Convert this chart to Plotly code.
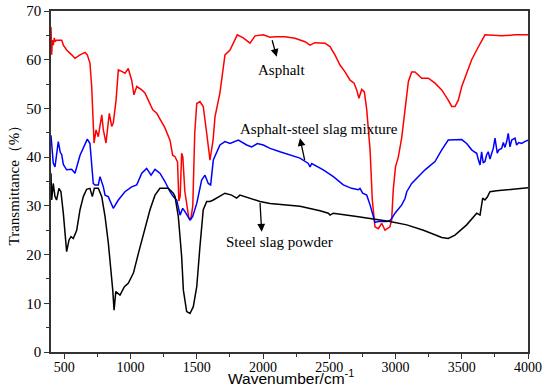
import plotly.graph_objects as go

# Asphalt (red)
asphalt_wn = [400, 405, 410, 417, 425, 430, 440, 455, 481, 493, 518, 556, 581, 619, 657, 674, 694, 707,
              719, 725, 740, 757, 783, 795, 815, 840, 858, 870, 891, 908, 934, 958, 983, 1009, 1026, 1047,
              1085, 1109, 1134, 1168, 1198, 1235, 1260, 1298, 1318, 1336, 1355, 1365, 1375, 1386, 1395,
              1410, 1440, 1455, 1470, 1485, 1500, 1524, 1549, 1575, 1600, 1623, 1638, 1675, 1713, 1751,
              1774, 1806, 1851, 1902, 1940, 2002, 2053, 2090, 2166, 2241, 2317, 2355, 2392, 2468, 2506,
              2543, 2581, 2619, 2657, 2687, 2707, 2724, 2745, 2765, 2783, 2808, 2825, 2845, 2870, 2896,
              2921, 2958, 2971, 2983, 3000, 3021, 3047, 3072, 3097, 3122, 3147, 3198, 3248, 3298, 3349,
              3398, 3424, 3449, 3474, 3500, 3537, 3575, 3613, 3650, 3675, 3801, 3902, 4000]
asphalt_t = [66.7, 61.0, 64.0, 63.0, 64.5, 63.7, 64.0, 64.0, 64.0, 63.0, 62.0, 61.0, 60.3, 61.0, 61.5, 61.0,
             59.3, 54.5, 44.9, 42.9, 45.6, 44.2, 48.7, 45.6, 42.9, 49.0, 46.3, 47.0, 51.7, 57.9, 57.6, 57.2,
             58.2, 55.8, 52.8, 54.5, 53.8, 53.2, 51.7, 49.7, 49.0, 47.3, 46.0, 43.5, 40.4, 40.1, 39.0, 31.0,
             32.0, 40.8, 40.0, 33.0, 27.5, 27.3, 30.0, 45.0, 51.0, 51.4, 50.4, 44.9, 39.4, 43.5, 48.3, 53.2,
             61.0, 62.0, 63.4, 65.1, 64.5, 63.4, 64.9, 65.1, 64.6, 64.7, 64.7, 64.4, 63.7, 63.0, 63.5, 63.4,
             62.7, 61.0, 58.9, 57.5, 55.8, 55.2, 53.8, 52.1, 53.9, 53.4, 49.7, 41.5, 31.2, 25.7, 25.3, 26.4,
             25.0, 25.7, 27.1, 33.3, 38.0, 40.0, 44.0, 50.0, 55.5, 57.5, 57.5, 56.2, 56.2, 55.2, 53.8, 51.7,
             50.4, 50.4, 51.7, 54.5, 57.2, 60.0, 62.0, 64.0, 65.1, 64.9, 65.1, 65.1]

# Asphalt-steel slag mixture (blue)
mixture_wn = [400, 417, 430, 455, 470, 481, 493, 518, 556, 581, 619, 657, 674, 694, 719, 732, 757, 770,
              795, 808, 832, 870, 908, 958, 1009, 1047, 1085, 1122, 1155, 1185, 1222, 1260, 1298, 1323,
              1349, 1374, 1394, 1411, 1449, 1469, 1500, 1537, 1562, 1587, 1605, 1625, 1675, 1713, 1751,
              1814, 1877, 1915, 1957, 2002, 2053, 2128, 2204, 2279, 2342, 2355, 2368, 2455, 2531, 2606,
              2669, 2719, 2732, 2752, 2783, 2808, 2845, 2870, 2896, 2935, 2958, 2971, 2996, 3047, 3072,
              3085, 3122, 3172, 3223, 3298, 3349, 3398, 3449, 3500, 3537, 3575, 3600, 3613, 3625, 3638,
              3650, 3662, 3675, 3688, 3700, 3713, 3726, 3738, 3751, 3768, 3780, 3801, 3814, 3826, 3839,
              3851, 3864, 3877, 3902, 3914, 3930, 3952, 3975, 4000]
mixture_t = [44.5, 38.8, 38.0, 43.2, 41.0, 40.5, 38.5, 37.4, 37.5, 36.7, 40.4, 42.8, 43.7, 42.8, 34.6,
             34.3, 34.3, 36.0, 33.9, 32.2, 31.9, 29.5, 31.2, 32.9, 33.9, 34.3, 36.7, 37.7, 36.3, 37.5, 36.7,
             35.0, 32.9, 31.9, 31.2, 28.1, 29.5, 28.8, 27.1, 27.8, 30.5, 35.3, 36.3, 34.6, 34.3, 39.4, 42.5,
             43.2, 42.8, 43.5, 42.5, 42.1, 42.8, 42.5, 41.8, 41.1, 40.4, 39.8, 38.7, 38.0, 38.7, 37.4, 36.0,
             34.3, 33.6, 33.3, 33.6, 32.6, 32.2, 30.2, 26.6, 26.8, 26.8, 26.8, 27.0, 27.4, 28.5, 30.2, 31.5,
             32.9, 34.6, 36.0, 37.4, 39.1, 41.5, 43.5, 43.5, 43.6, 42.8, 41.5, 41.0, 40.8, 39.5, 38.4,
             41.1, 38.8, 39.1, 40.5, 41.1, 39.6, 40.8, 41.8, 43.9, 40.8, 41.5, 41.8, 43.0, 42.0, 43.2,
             44.9, 42.1, 43.5, 43.9, 42.5, 43.0, 42.8, 43.2, 43.5]

# Steel slag powder (black)
slag_wn = [400, 405, 417, 430, 442, 460, 475, 493, 518, 536, 551, 568, 594, 619, 644, 669, 694, 712,
           727, 757, 783, 808, 833, 853, 866, 876, 889, 921, 954, 983, 1022, 1060, 1109, 1147, 1185,
           1222, 1285, 1323, 1336, 1361, 1386, 1399, 1424, 1449, 1474, 1500, 1524, 1549, 1575, 1600,
           1625, 1650, 1675, 1713, 1763, 1788, 1801, 1826, 1902, 1977, 2053, 2153, 2279, 2430, 2493,
           2506, 2531, 2707, 2958, 3085, 3211, 3349, 3398, 3449, 3537, 3613, 3638, 3658, 3675, 3693,
           3713, 3763, 3864, 4000]
slag_t = [36.7, 31.2, 34.6, 31.9, 31.2, 33.6, 32.9, 28.5, 20.6, 23.0, 23.7, 23.3, 25.0, 29.2, 31.9, 33.4,
          33.6, 31.9, 33.6, 33.6, 31.9, 27.8, 22.3, 16.8, 12.7, 8.6, 12.4, 11.7, 13.4, 14.1, 16.2, 20.3,
          25.0, 29.2, 32.2, 33.6, 33.6, 32.6, 31.9, 27.8, 19.6, 12.7, 8.3, 7.9, 9.3, 13.4, 21.6, 29.2,
          30.9, 30.9, 31.2, 31.6, 31.9, 32.6, 32.2, 31.9, 31.6, 32.2, 31.6, 30.9, 30.5, 30.2, 29.9, 29.0,
          28.5, 28.1, 28.5, 27.8, 26.8, 26.1, 25.0, 23.5, 23.3, 24.0, 26.1, 28.5, 28.1, 31.6, 31.2, 31.8,
          32.9, 33.1, 33.3, 33.7]

x_ticks = [500, 1000, 1500, 2000, 2500, 3000, 3500, 4000]
y_ticks = [0, 10, 20, 30, 40, 50, 60, 70]

serif = "Liberation Serif"
sans = "Liberation Sans"

fig = go.Figure()
fig.add_trace(go.Scatter(x=asphalt_wn, y=asphalt_t, mode="lines", line=dict(color="#ff0000", width=1.5),
                         name="Asphalt"))
fig.add_trace(go.Scatter(x=mixture_wn, y=mixture_t, mode="lines", line=dict(color="#0000ff", width=1.5),
                         name="Asphalt-steel slag mixture"))
fig.add_trace(go.Scatter(x=slag_wn, y=slag_t, mode="lines", line=dict(color="#000000", width=1.5),
                         name="Steel slag powder"))

labels = [
    ("Asphalt", 2143, 57.9, 2066, 64.3, 2103, 60.6),
    ("Asphalt-steel slag mixture", 2425, 45.8, 2317, 39.1, 2279, 43.9),
    ("Steel slag powder", 2121, 22.6, 1977, 30.9, 1990, 24.7),
]
for txt, tx, ty, x0, y0, x1, y1 in labels:
    fig.add_annotation(x=tx, y=ty, text=txt, showarrow=False,
                       font=dict(family=serif, size=15, color="black"))
    fig.add_annotation(x=x1, y=y1, ax=x0, ay=y0, axref="x", ayref="y", text="",
                       showarrow=True, arrowhead=2, arrowsize=1.2, arrowwidth=1.3,
                       arrowcolor="black", arrowside="end")

# axis titles
fig.add_annotation(xref="paper", yref="paper", x=0.503, y=-0.039, xanchor="center", yanchor="top",
                   text="Wavenumber/cm<sup>-1</sup>", showarrow=False,
                   font=dict(family=sans, size=15.5, color="black"))
fig.add_annotation(xref="paper", yref="paper", x=-0.0776, y=0.5, xanchor="center", yanchor="middle",
                   text="Transmittance（%）", textangle=-90, showarrow=False,
                   font=dict(family=serif, size=15, color="black"))

axis_common = dict(showline=True, linecolor="#333333", linewidth=1.5, mirror=True, ticks="outside",
                   ticklen=5, tickwidth=1.2, tickcolor="#333333", showgrid=False, zeroline=False,
                   automargin=False)

fig.update_xaxes(range=[400, 4000], tickvals=x_ticks, ticktext=[str(v) for v in x_ticks],
                 minor=dict(dtick=250, tick0=0, ticks="outside", ticklen=3, tickcolor="#333333"),
                 tickfont=dict(family=serif, size=14, color="black"), ticklabelstandoff=-4,
                 **axis_common)
fig.update_yaxes(range=[0, 70], tickvals=y_ticks, ticktext=[str(v) for v in y_ticks],
                 minor=dict(dtick=5, tick0=0, ticks="outside", ticklen=3, tickcolor="#333333"),
                 tickfont=dict(family=serif, size=15, color="black"),
                 **axis_common)

fig.update_layout(width=550, height=389, margin=dict(l=51, r=22, t=11, b=37),
                  paper_bgcolor="white", plot_bgcolor="white", showlegend=False)

fig.write_html("out.html", config={"displayModeBar": False},
               post_script="document.body.style.margin='0';")
